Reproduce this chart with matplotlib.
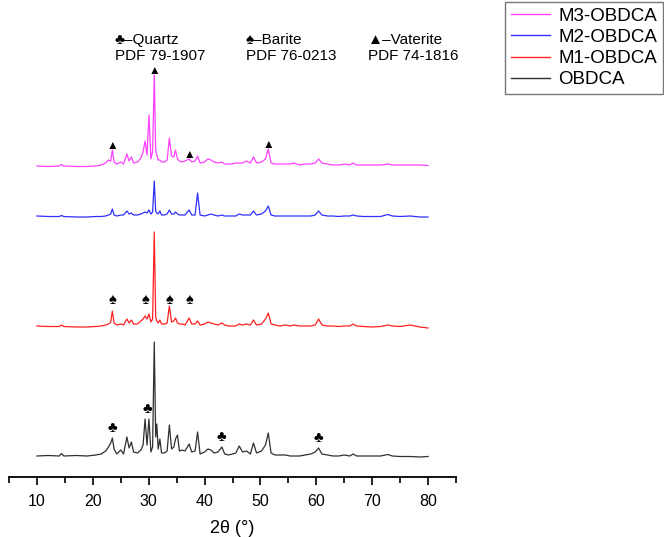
import numpy as np
import matplotlib
matplotlib.use('Agg')
from matplotlib import pyplot as plt
from matplotlib.lines import Line2D

plt.rcParams['font.family'] = ['Liberation Sans', 'DejaVu Sans']

# 2theta grid (deg) shared by the four patterns
two_theta = [10.0, 12.0, 14.0, 14.4, 14.8, 17.0, 19.0, 20.5, 21.5, 22.3, 22.8, 23.2, 23.5, 23.8, 24.3,
             25.0, 25.5, 26.1, 26.5, 26.9, 27.3, 28.0, 28.6, 29.0, 29.35, 29.7, 30.05, 30.4, 30.7, 31.0,
             31.25, 31.45, 31.7, 32.0, 32.3, 32.8, 33.3, 33.7, 34.1, 34.5, 34.8, 35.15, 35.5, 36.0, 36.5,
             37.25, 37.7, 38.3, 38.75, 39.2, 40.0, 40.6, 41.15, 41.7, 42.4, 43.1, 43.6, 44.3, 45.0, 45.6,
             46.2, 46.8, 47.5, 48.2, 48.75, 49.3, 50.2, 50.9, 51.4, 51.9, 52.6, 53.5, 54.5, 55.3, 56.0,
             57.0, 58.0, 59.0, 59.8, 60.4, 61.0, 62.0, 63.0, 64.0, 65.0, 66.0, 66.6, 67.2, 68.5, 70.0,
             71.5, 72.8, 73.6, 75.0, 76.8, 78.5, 80.0]

# intensities (a.u.) above each baseline
obdca = [1, 1.5, 1, 3.5, 1, 1.5, 1, 2, 3, 6, 10, 14, 19, 8, 3,
         7, 3, 20, 9, 15, 5, 4, 7, 12, 38, 12, 38, 5, 10, 115,
         20, 33, 8, 18, 4, 4, 6, 32, 8, 10, 18, 22, 6, 7, 6,
         13, 5, 6, 25, 3, 5, 8, 7, 4, 5, 10, 3, 2, 3, 4,
         11, 5, 6, 3, 14, 4, 6, 12, 24, 4, 2, 2, 2, 1, 1,
         1, 2, 3, 5, 9, 3, 2, 1, 1, 2, 1, 3, 1, 1, 1,
         1, 2.5, 1, 0.5, 0.5, 0, 0.5]
m1_obdca = [1, 0.5, 0.5, 2, 0.5, 0, 0, 0.5, 1, 2, 3, 5, 16, 4, 2,
            3, 2, 8, 4, 7, 3, 3, 6, 8, 11, 8, 13, 5, 8, 95,
            10, 6, 4, 7, 3, 3, 4, 21, 5, 6, 9, 4, 3, 3, 2,
            9, 3, 3, 6, 2, 3, 5, 4, 3, 2, 4, 2, 1, 1, 1,
            3, 2, 3, 2, 7, 2, 3, 8, 14, 3, 2, 1, 2, 1, 2,
            1, 1, 1, 2, 8, 2, 1, 1, 0.5, 1, 1, 3, 1, 0.5, 0,
            0.5, 2, 1, 0.5, 2, 0, -1]
m2_obdca = [1, 0.5, 0.5, 1.5, 0.5, 0, 0, 0.5, 0.5, 1, 2, 3, 8, 2, 1,
            2, 2, 6, 3, 4, 2, 2, 3, 4, 5, 4, 7, 3, 5, 36,
            6, 4, 3, 6, 2, 2, 3, 7, 3, 3, 5, 3, 2, 2, 2,
            7, 2, 2, 24, 2, 1, 2, 3, 2, 1, 2, 1, 1, 1, 1,
            3, 2, 2, 2, 6, 2, 3, 6, 11, 2, 1, 1, 1, 1, 1,
            1, 1, 1, 2, 6, 2, 1, 1, 0.5, 1, 1, 2, 1, 0.5, 0.5,
            0.5, 2.5, 1, 0.5, 1, 0, 0]
m3_obdca = [1, 0.5, 1, 2.5, 1, 0.5, 0.5, 1, 2, 4, 7, 6, 17, 5, 3,
            5, 3, 13, 6, 10, 4, 5, 9, 15, 26, 12, 52, 8, 15, 92,
            17, 12, 7, 7, 5, 5, 7, 29, 11, 10, 17, 8, 6, 5, 6,
            8, 5, 6, 11, 4, 5, 8, 7, 5, 4, 5, 3, 3, 3, 4,
            4, 4, 6, 4, 10, 4, 5, 8, 18, 4, 3, 3, 3, 3, 4,
            2, 3, 3, 4, 8, 4, 3, 2, 2, 3, 2, 4, 2, 2, 2,
            2, 3, 2, 2, 2, 2, 1.5]

labels = ['M3-OBDCA', 'M2-OBDCA', 'M1-OBDCA', 'OBDCA']
series = [m3_obdca, m2_obdca, m1_obdca, obdca]
offsets = [310, 260, 150, 20]
colors = ['#ff40ff', '#3030ff', '#ff2020', '#303030']

# phase reflections marked on the patterns
vaterite_pos = [23.5, 31.0, 37.25, 51.4]
barite_pos = [23.5, 29.35, 33.7, 37.25]
quartz_pos = [23.5, 29.7, 43.1, 60.4]

fig = plt.figure(figsize=(6.64, 5.37), dpi=100)
ax = fig.add_axes([9 / 664, 60 / 537, 447 / 664, 477 / 537])

x = np.array(two_theta)
for yv, off, c in zip(series, offsets, colors):
    ax.plot(x, np.array(yv) + off, color=c, lw=0.9)


def peak_top(yv, pos):
    near = np.abs(x - pos) <= 0.4
    return np.max(np.array(yv)[near])


for pos in vaterite_pos:
    ax.text(pos, offsets[0] + peak_top(m3_obdca, pos) + 4, '▲', ha='center', va='center', fontsize=8.5)
for pos in barite_pos:
    ax.text(pos, offsets[2] + 20, '♠', ha='center', va='bottom', fontsize=10.5)
for pos in quartz_pos:
    ax.text(pos, offsets[3] + peak_top(obdca, pos) + 3, '♣', ha='center', va='bottom', fontsize=10.5)

ax.set_xlim(5, 85)
ax.set_ylim(0, 477)
for s in ['left', 'right', 'top']:
    ax.spines[s].set_visible(False)
ax.spines['bottom'].set_linewidth(1.3)
ax.set_yticks([])
ax.set_xticks(range(10, 81, 10))
ax.set_xticks(range(5, 86, 10), minor=True)
ax.tick_params(axis='x', which='major', length=6, width=1.2, labelsize=11.5, pad=6)
ax.tick_params(axis='x', which='minor', length=4, width=1.2)
ax.set_xlabel('2θ (°)', fontsize=13, labelpad=8)
ax.patch.set_alpha(0)

fig.text(115 / 664, 1 - 33 / 537, '♣–Quartz\nPDF 79-1907', ha='left', va='top', fontsize=11)
fig.text(246 / 664, 1 - 33 / 537, '♠–Barite\nPDF 76-0213', ha='left', va='top', fontsize=11)
fig.text(368 / 664, 1 - 33 / 537, '▲–Vaterite\nPDF 74-1816', ha='left', va='top', fontsize=11)

handles = [Line2D([], [], color=c, lw=1) for c in colors]
leg = fig.legend(handles, labels, loc='upper right', bbox_to_anchor=(663 / 664, 1 - 2 / 537),
                 fontsize=13.5, frameon=True, fancybox=False, edgecolor='#555555',
                 handlelength=2.1, labelspacing=0.22, borderpad=0.3, handletextpad=0.45,
                 borderaxespad=0)
leg.get_frame().set_linewidth(1.0)

fig.savefig('out.png', dpi=100)
